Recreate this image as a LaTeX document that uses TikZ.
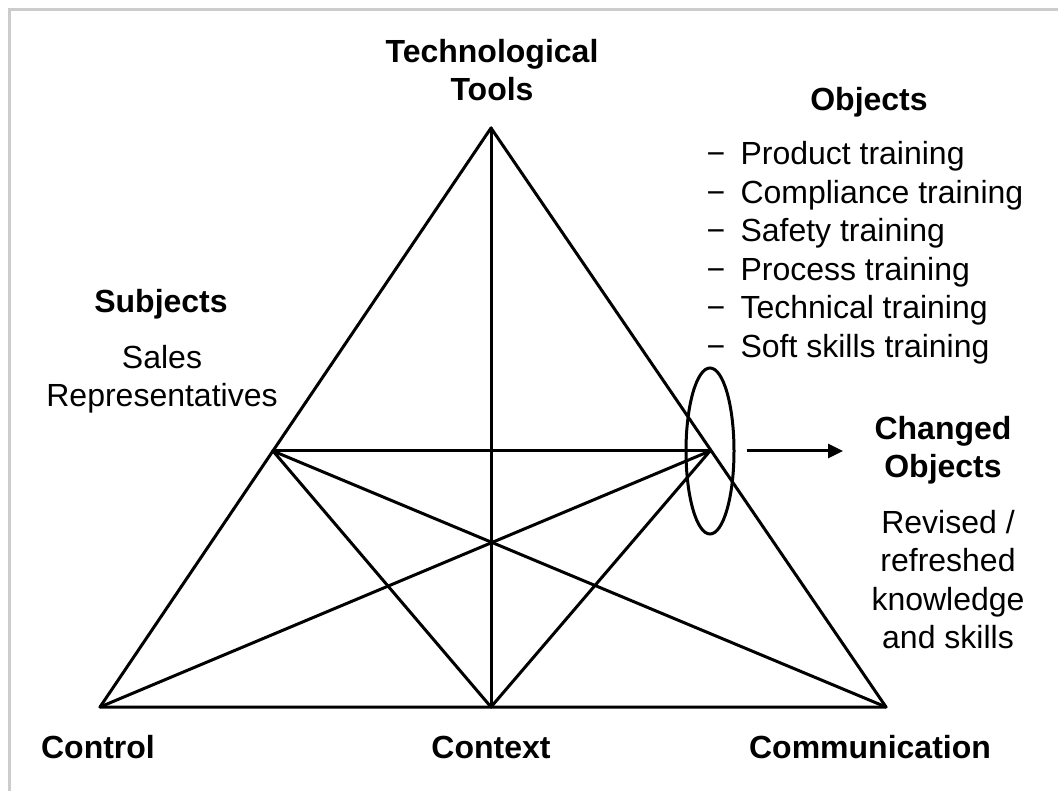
\documentclass[tikz,border=0pt]{standalone}
\usepackage{fontspec}
\setmainfont{Liberation Sans}
\usetikzlibrary{arrows.meta, shapes.geometric}
\definecolor{cframe}{HTML}{CCCCCC}
\tikzset{
  every picture/.style={font=\fontsize{32}{38.5}\selectfont, line width=3pt},
  edge/.style={draw=black, line cap=round, line join=round},
  head/.style={font=\fontsize{32}{38.5}\selectfont\bfseries, align=center, anchor=base, inner sep=0pt},
  body/.style={align=center, anchor=base, inner sep=0pt},
  item/.style={anchor=base west, inner sep=0pt},
  arrow/.style={-{Triangle[length=15pt, width=14pt]}, draw=black},
}

\begin{document}
\begin{tikzpicture}[x=1pt, y=-1pt]
  \useasboundingbox (0,0) rectangle (1058,791);
  % frame
  \draw[cframe, line width=3pt] (9,791) -- (9,10) -- (1058,10);
  % vertices of the triangle
  \coordinate (top) at (491,128);
  \coordinate (bl) at (100,707);
  \coordinate (bm) at (491,707);
  \coordinate (br) at (886,707);
  \coordinate (ml) at (273,451);
  \coordinate (mr) at (710,451);
  % outer triangle and inner lines
  \draw[edge] (top) -- (bl) -- (br) -- cycle;
  \draw[edge] (top) -- (bm);
  \draw[edge] (ml) -- (mr);
  \foreach \a/\b in {ml/bm, ml/br, bl/mr, bm/mr} \draw[edge] (\a) -- (\b);
  % outcome
  \node[ellipse, draw, minimum width=48pt, minimum height=166pt, inner sep=0pt] (ring) at (mr) {};
  \coordinate (tip) at (843,451);
  \draw[arrow] ([xshift=11pt]ring.east) -- (tip);
  % labels (base = last line)
  \node[head] (tools) at (492,101) {Technological\\Tools};
  \node[head] (objects) at (869,111) {Objects};
  \foreach \t [count=\i] in {Product training, Compliance training, Safety training, Process training, Technical training, Soft skills training} {
    \node[item] (dash\i) at (705,126.5+38.5*\i) {−};
    \node[item] (obj\i) at (739,126.5+38.5*\i) {\t};
  }
  \node[head] (subjects) at (161,313) {Subjects};
  \node[body] (sales) at (162,407) {Sales\\Representatives};
  \node[head] (changed) at (943,478) {Changed\\Objects};
  \node[body] (revised) at (948,648.5) {Revised /\\refreshed\\knowledge\\and skills};
  \foreach \x/\t in {98/Control, 491/Context, 870/Communication}
    \node[head] (lab\t) at (\x,758) {\t};
\end{tikzpicture}
\end{document}
